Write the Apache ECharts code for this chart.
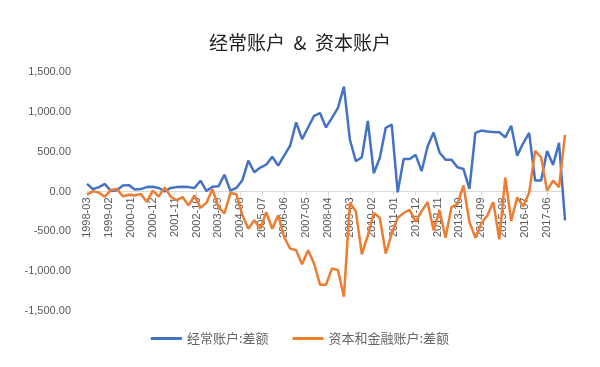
<!DOCTYPE html>
<html>
<head>
<meta charset="utf-8">
<script src="https://cdn.jsdelivr.net/npm/echarts@6/dist/echarts.min.js"></script>
<style>html,body{margin:0;padding:0;background:#fff;}#c{width:600px;height:367px;}</style>
</head>
<body>
<div id="c"></div>
<script>
// Quarter-end dates, 1998-03 .. 2018-03
var firstYear = 1998, lastYear = 2018;
var quarterMonths = ['03', '06', '09', '12'];

// 经常账户:差额 (current account balance), quarterly
var currentAccount = [
  96, 30, 55, 95, 5, 15, 75, 80, 25, 30,
  55, 60, 45, 0, 45, 55, 60, 55, 45, 135,
  5, 60, 65, 210, 10, 45, 140, 387, 242, 300,
  337, 437, 325, 450, 575, 867, 658, 804, 950, 985,
  804, 925, 1050, 1316, 650, 380, 429, 887, 230, 420,
  800, 840, -10, 408, 408, 460, 255, 565, 740, 490,
  400, 400, 304, 283, 33, 735, 765, 752, 746, 745,
  679, 825, 450, 605, 735, 137, 137, 508, 335, 610,
  -362
];

// 资本和金融账户:差额 (capital & financial account balance), quarterly
var capitalAccount = [
  -40, 5, -15, -65, 20, 30, -60, -40, -50, -30,
  -130, 10, -65, 50, -65, -110, -70, -175, -50, -205,
  -140, 30, -195, -275, -20, -35, -295, -467, -362, -467,
  -258, -467, -300, -571, -717, -737, -912, -737, -904, -1170,
  -1170, -967, -987, -1321, -140, -250, -790, -550, -270, -330,
  -780, -530, -330, -270, -230, -380, -250, -133, -487, -237,
  -580, -196, -160, 75, -380, -580, -400, -300, -133, -600,
  175, -370, -75, -185, -15, 510, 430, 12, 137, 54,
  710
];

var seriesNames = ['经常账户:差额', '资本和金融账户:差额'];
var titleText = '经常账户  &  资本账户';

// Monthly axis categories (labels every 11 months, as in the source chart)
var months = [];
for (var y = firstYear; y <= lastYear; y++) {
  for (var m = 1; m <= 12; m++) {
    if (y === firstYear && m < 3) continue;
    if (y === lastYear && m > 3) continue;
    months.push(y + '-' + (m < 10 ? '0' + m : '' + m));
  }
}
var quarters = [];
for (var y2 = firstYear; y2 <= lastYear; y2++) {
  for (var q = 0; q < 4; q++) {
    if (y2 === lastYear && q > 0) continue;
    quarters.push(y2 + '-' + quarterMonths[q]);
  }
}
function pairs(vals) {
  return vals.map(function (v, i) { return [quarters[i], v]; });
}
function fmt(v) {
  var s = Math.abs(v).toFixed(2);
  var parts = s.split('.');
  parts[0] = parts[0].replace(/\B(?=(\d{3})+(?!\d))/g, ',');
  return (v < 0 ? '-' : '') + parts[0] + '.' + parts[1];
}

var gridTop = 72, gridBottom = 56, chartH = 367;
var zeroOffset = -((chartH - gridTop - gridBottom) / 2);

var chart = echarts.init(document.getElementById('c'), null, {renderer: 'canvas'});
chart.setOption({
  animation: false,
  backgroundColor: '#ffffff',
  title: {
    text: titleText,
    left: 'center',
    top: 28,
    textStyle: {fontFamily: 'Noto Sans CJK SC', fontSize: 19, fontWeight: 'normal', color: '#222'}
  },
  legend: {
    bottom: 17,
    left: 'center',
    icon: 'rect',
    itemWidth: 31,
    itemHeight: 3,
    itemGap: 24,
    textStyle: {fontFamily: 'Noto Sans CJK SC', fontSize: 13, color: '#666'},
    data: seriesNames
  },
  grid: {left: 87, right: 35, top: gridTop, bottom: gridBottom, containLabel: false},
  xAxis: {
    type: 'category',
    data: months,
    boundaryGap: false,
    position: 'bottom',
    offset: zeroOffset,
    axisLine: {onZero: false, lineStyle: {color: '#d9d9d9', width: 1}},
    axisTick: {show: true, interval: 10, length: 4, lineStyle: {color: '#d9d9d9'}},
    axisLabel: {interval: 10, rotate: 90, color: '#595959', fontFamily: 'Liberation Sans', fontSize: 11, margin: 6}
  },
  yAxis: {
    type: 'value',
    min: -1500,
    max: 1500,
    interval: 500,
    axisLine: {show: false},
    axisTick: {show: false},
    splitLine: {show: false},
    axisLabel: {formatter: fmt, color: '#595959', fontFamily: 'Liberation Sans', fontSize: 11, margin: 16}
  },
  series: [
    {
      name: seriesNames[0], type: 'line', data: pairs(currentAccount),
      showSymbol: false, symbol: 'none', z: 2,
      lineStyle: {color: '#4472C4', width: 2.5}, itemStyle: {color: '#4472C4'}
    },
    {
      name: seriesNames[1], type: 'line', data: pairs(capitalAccount),
      showSymbol: false, symbol: 'none', z: 3,
      lineStyle: {color: '#ED7D31', width: 2.5}, itemStyle: {color: '#ED7D31'}
    }
  ]
});
</script>
</body>
</html>
